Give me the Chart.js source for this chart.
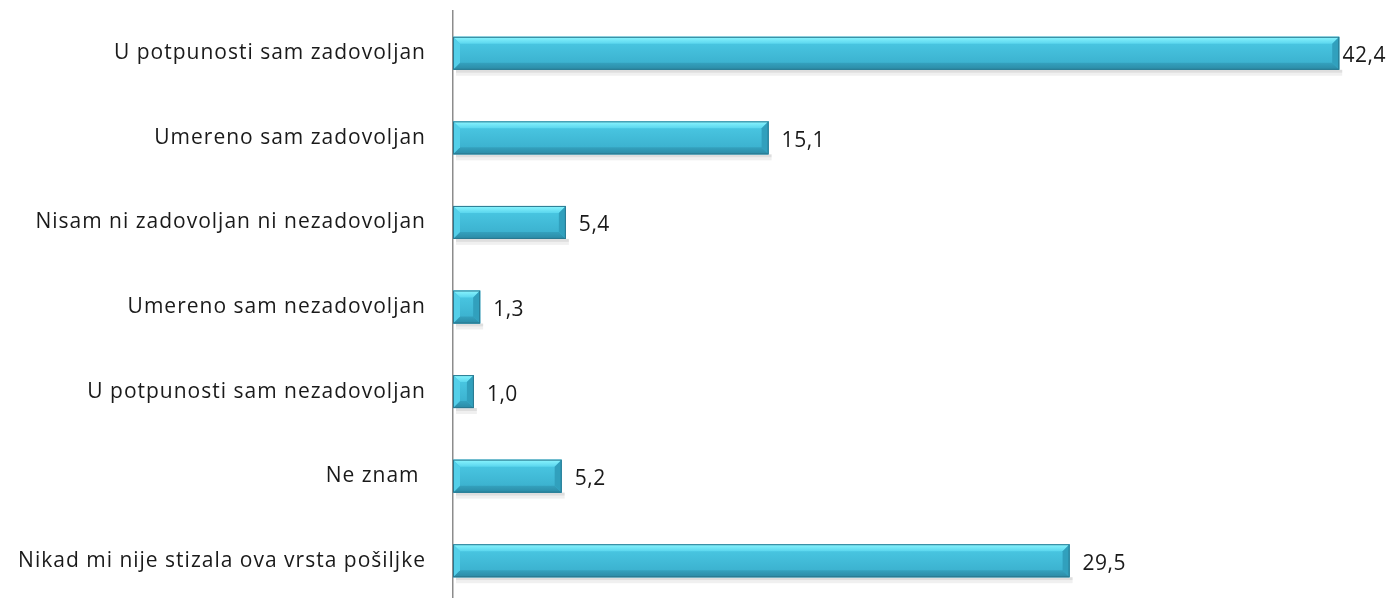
<!DOCTYPE html>
<html>
<head>
<meta charset="utf-8">
<script src="https://cdn.jsdelivr.net/npm/chart.js@4"></script>
<style>
  html, body { margin: 0; padding: 0; background: #fff; overflow: hidden; }
  canvas { display: block; }
</style>
</head>
<body>
<canvas id="myChart" width="1386" height="603"></canvas>
<script>
var categories = ['U potpunosti sam zadovoljan', 'Umereno sam zadovoljan', 'Nisam ni zadovoljan ni nezadovoljan',
  'Umereno sam nezadovoljan', 'U potpunosti sam nezadovoljan', 'Ne znam ', 'Nikad mi nije stizala ova vrsta pošiljke'];
var values = [42.4, 15.1, 5.4, 1.3, 1.0, 5.2, 29.5];
var valueLabels = ['42,4', '15,1', '5,4', '1,3', '1,0', '5,2', '29,5'];

function quad(c, pts, fill) {
  c.fillStyle = fill;
  c.beginPath();
  c.moveTo(pts[0], pts[1]);
  for (var k = 2; k < pts.length; k += 2) c.lineTo(pts[k], pts[k + 1]);
  c.closePath();
  c.fill();
}

// wider text like the original font
var spacing = {
  id: 'spacing',
  beforeDraw: function(chart) { chart.ctx.letterSpacing = '1px'; }
};

// bevel look on each bar, using the bar element geometry
var bevelBars = {
  id: 'bevelBars',
  afterDatasetsDraw: function(chart) {
    var ctx = chart.ctx;
    var meta = chart.getDatasetMeta(0);
    meta.data.forEach(function(bar, i) {
      var x0 = bar.base, x1 = bar.x;
      var h = bar.height, y0 = bar.y - h / 2, y1 = bar.y + h / 2;
      var w = x1 - x0;
      ctx.save();
      // shadow
      ctx.fillStyle = 'rgba(0,0,0,0.13)';
      ctx.fillRect(x0 + 3, y1, w, 3);
      ctx.fillStyle = 'rgba(0,0,0,0.06)';
      ctx.fillRect(x0 + 3, y1 + 3, w, 3);
      var g = ctx.createLinearGradient(0, y0, 0, y1);
      g.addColorStop(0, '#4ccbe6');
      g.addColorStop(1, '#38acca');
      ctx.fillStyle = g;
      ctx.fillRect(x0, y0, w, h);
      var b = Math.min(7, w / 2, h / 2);
      var gt = ctx.createLinearGradient(0, y0, 0, y0 + b);
      gt.addColorStop(0, '#8cf6ff');
      gt.addColorStop(1, '#5ad6ee');
      quad(ctx, [x0, y0, x1, y0, x1 - b, y0 + b, x0 + b, y0 + b], gt);
      var gb = ctx.createLinearGradient(0, y1 - b, 0, y1);
      gb.addColorStop(0, '#34a1be');
      gb.addColorStop(1, '#2b8aa5');
      quad(ctx, [x0, y1, x1, y1, x1 - b, y1 - b, x0 + b, y1 - b], gb);
      quad(ctx, [x0, y0, x0 + b, y0 + b, x0 + b, y1 - b, x0, y1], '#54cfe9');
      quad(ctx, [x1, y0, x1 - b, y0 + b, x1 - b, y1 - b, x1, y1], '#31a0bd');
      ctx.strokeStyle = '#2a7890';
      ctx.lineWidth = 1;
      ctx.strokeRect(x0 + 0.5, y0 + 0.5, w - 1, h - 1);
      // value label
      ctx.letterSpacing = '0.5px';
      ctx.font = '21px "Open Sans"';
      ctx.fillStyle = '#1a1a1a';
      ctx.textBaseline = 'middle';
      var txt = valueLabels[i];
      var tw = ctx.measureText(txt).width;
      var tx = Math.min(x1 + 13, chart.width - tw);
      ctx.fillText(txt, tx, bar.y + 3);
      ctx.restore();
    });
  }
};

const ctx = document.getElementById('myChart');

new Chart(ctx, {
  type: 'bar',
  data: {
    labels: categories,
    datasets: [{
      data: values,
      backgroundColor: '#3aa8c8',
      borderWidth: 0,
      barPercentage: 0.39,
      categoryPercentage: 1
    }]
  },
  options: {
    indexAxis: 'y',
    responsive: false,
    animation: false,
    layout: { padding: { top: 11, right: 6, bottom: 0, left: 0 } },
    plugins: { legend: { display: false }, tooltip: { enabled: false } },
    scales: {
      x: { display: false, min: 0, max: 44.35 },
      y: {
        afterFit: function(scale) {
          scale.width = 453;
          scale.paddingTop = 0;
          scale.paddingBottom = 0;
        },
        grid: { display: false, drawTicks: false },
        border: { display: true, color: '#8c8c8c', width: 1.5 },
        ticks: { color: '#1a1a1a', font: { family: 'Open Sans', size: 21 }, padding: 27 }
      }
    }
  },
  plugins: [spacing, bevelBars]
});
</script>
</body>
</html>
